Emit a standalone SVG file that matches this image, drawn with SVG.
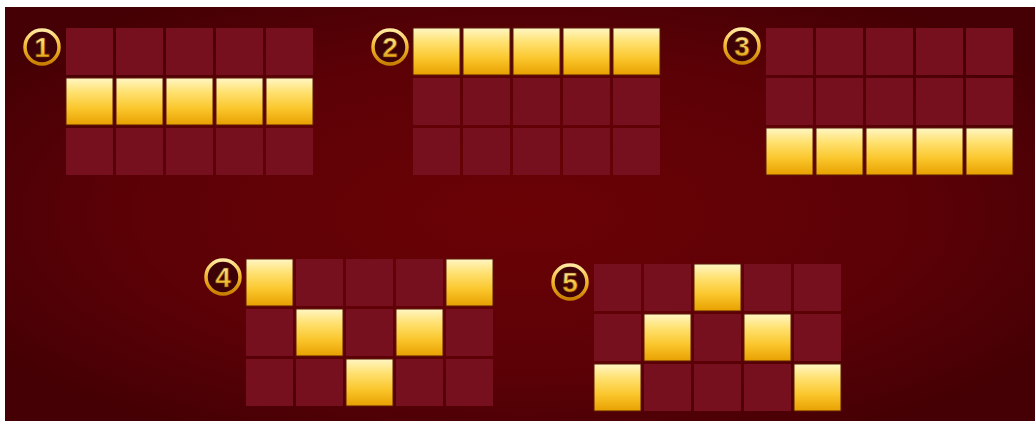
<svg xmlns="http://www.w3.org/2000/svg" xmlns:xlink="http://www.w3.org/1999/xlink" width="1035" height="421" viewBox="0 0 1035 421">
<defs>
<radialGradient id="bg" cx="0.5" cy="0.5" r="0.62">
<stop offset="0" stop-color="#6a0205"/>
<stop offset="0.6" stop-color="#5c0106"/>
<stop offset="1" stop-color="#440004"/>
</radialGradient>
<linearGradient id="gold" x1="0" y1="0" x2="0" y2="1">
<stop offset="0" stop-color="#fff6c4"/>
<stop offset="0.3" stop-color="#ffe170"/>
<stop offset="0.65" stop-color="#fac62c"/>
<stop offset="1" stop-color="#e8a000"/>
</linearGradient>
<linearGradient id="ring" x1="0" y1="0" x2="0" y2="1">
<stop offset="0" stop-color="#ffe9a0"/>
<stop offset="0.5" stop-color="#f2b52a"/>
<stop offset="1" stop-color="#c97f00"/>
</linearGradient>
<linearGradient id="num" x1="0" y1="0" x2="0" y2="1">
<stop offset="0" stop-color="#fff0a8"/>
<stop offset="0.6" stop-color="#f3c23b"/>
<stop offset="1" stop-color="#d08a00"/>
</linearGradient>
<rect id="c" width="47" height="47" class="cell"/>
<rect id="g" width="47" height="47" class="gold"/>
</defs>
<style>
.cell{fill:#76101f;}
.gold{fill:url(#gold);stroke:#5a1a08;stroke-width:1;}
.badge{fill:#3d0208;stroke:url(#ring);stroke-width:3.5;}
.n{font-family:"Liberation Sans Narrow","Liberation Sans",sans-serif;font-weight:bold;font-size:28px;fill:url(#num);stroke:#7a3a00;stroke-width:0.6;text-anchor:middle;}
</style>
<rect x="0" y="0" width="1035" height="421" fill="#ffffff"/>
<rect x="5" y="7" width="1030" height="414" fill="url(#bg)"/>

<g id="pattern1">
<circle class="badge" cx="42" cy="47" r="17"/>
<text class="n" x="42" y="57">1</text>
<g transform="translate(66,28)">
<use xlink:href="#c" x="0" y="0"/><use xlink:href="#c" x="50" y="0"/><use xlink:href="#c" x="100" y="0"/><use xlink:href="#c" x="150" y="0"/><use xlink:href="#c" x="200" y="0"/>
<use xlink:href="#g" x="0" y="50"/><use xlink:href="#g" x="50" y="50"/><use xlink:href="#g" x="100" y="50"/><use xlink:href="#g" x="150" y="50"/><use xlink:href="#g" x="200" y="50"/>
<use xlink:href="#c" x="0" y="100"/><use xlink:href="#c" x="50" y="100"/><use xlink:href="#c" x="100" y="100"/><use xlink:href="#c" x="150" y="100"/><use xlink:href="#c" x="200" y="100"/>
</g>
</g>

<g id="pattern2">
<circle class="badge" cx="390" cy="47" r="17"/>
<text class="n" x="390" y="57">2</text>
<g transform="translate(413,28)">
<use xlink:href="#g" x="0" y="0"/><use xlink:href="#g" x="50" y="0"/><use xlink:href="#g" x="100" y="0"/><use xlink:href="#g" x="150" y="0"/><use xlink:href="#g" x="200" y="0"/>
<use xlink:href="#c" x="0" y="50"/><use xlink:href="#c" x="50" y="50"/><use xlink:href="#c" x="100" y="50"/><use xlink:href="#c" x="150" y="50"/><use xlink:href="#c" x="200" y="50"/>
<use xlink:href="#c" x="0" y="100"/><use xlink:href="#c" x="50" y="100"/><use xlink:href="#c" x="100" y="100"/><use xlink:href="#c" x="150" y="100"/><use xlink:href="#c" x="200" y="100"/>
</g>
</g>

<g id="pattern3">
<circle class="badge" cx="742" cy="46" r="17"/>
<text class="n" x="742" y="56">3</text>
<g transform="translate(766,28)">
<use xlink:href="#c" x="0" y="0"/><use xlink:href="#c" x="50" y="0"/><use xlink:href="#c" x="100" y="0"/><use xlink:href="#c" x="150" y="0"/><use xlink:href="#c" x="200" y="0"/>
<use xlink:href="#c" x="0" y="50"/><use xlink:href="#c" x="50" y="50"/><use xlink:href="#c" x="100" y="50"/><use xlink:href="#c" x="150" y="50"/><use xlink:href="#c" x="200" y="50"/>
<use xlink:href="#g" x="0" y="100"/><use xlink:href="#g" x="50" y="100"/><use xlink:href="#g" x="100" y="100"/><use xlink:href="#g" x="150" y="100"/><use xlink:href="#g" x="200" y="100"/>
</g>
</g>

<g id="pattern4">
<circle class="badge" cx="223" cy="277" r="17"/>
<text class="n" x="223" y="287">4</text>
<g transform="translate(246,259)">
<use xlink:href="#g" x="0" y="0"/><use xlink:href="#c" x="50" y="0"/><use xlink:href="#c" x="100" y="0"/><use xlink:href="#c" x="150" y="0"/><use xlink:href="#g" x="200" y="0"/>
<use xlink:href="#c" x="0" y="50"/><use xlink:href="#g" x="50" y="50"/><use xlink:href="#c" x="100" y="50"/><use xlink:href="#g" x="150" y="50"/><use xlink:href="#c" x="200" y="50"/>
<use xlink:href="#c" x="0" y="100"/><use xlink:href="#c" x="50" y="100"/><use xlink:href="#g" x="100" y="100"/><use xlink:href="#c" x="150" y="100"/><use xlink:href="#c" x="200" y="100"/>
</g>
</g>

<g id="pattern5">
<circle class="badge" cx="570" cy="282" r="17"/>
<text class="n" x="570" y="292">5</text>
<g transform="translate(594,264)">
<use xlink:href="#c" x="0" y="0"/><use xlink:href="#c" x="50" y="0"/><use xlink:href="#g" x="100" y="0"/><use xlink:href="#c" x="150" y="0"/><use xlink:href="#c" x="200" y="0"/>
<use xlink:href="#c" x="0" y="50"/><use xlink:href="#g" x="50" y="50"/><use xlink:href="#c" x="100" y="50"/><use xlink:href="#g" x="150" y="50"/><use xlink:href="#c" x="200" y="50"/>
<use xlink:href="#g" x="0" y="100"/><use xlink:href="#c" x="50" y="100"/><use xlink:href="#c" x="100" y="100"/><use xlink:href="#c" x="150" y="100"/><use xlink:href="#g" x="200" y="100"/>
</g>
</g>

<g id="connectors"/>
</svg>
